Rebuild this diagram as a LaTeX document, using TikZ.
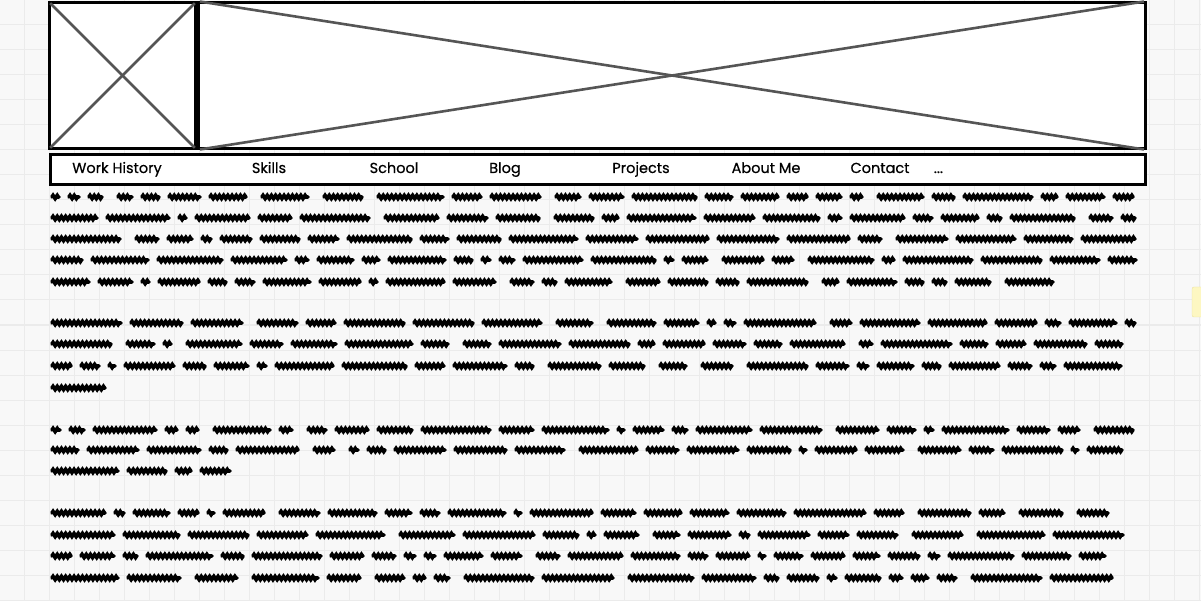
\documentclass[tikz,border=0pt]{standalone}
\usepackage{fontspec}
\setmainfont{Poppins}[FakeBold=0.5]
\usepackage{xcolor}
\usepackage{tikz}
\usetikzlibrary{positioning, calc, decorations.pathmorphing}

\definecolor{canvas}{HTML}{F8F8F8}
\definecolor{gridline}{HTML}{EBEBEB}
\definecolor{crossgray}{HTML}{555555}
\definecolor{sticky}{HTML}{FDF7C2}
\definecolor{stickyedge}{HTML}{EDE3A2}

\tikzset{
  imgbox/.style={draw=black, line width=2.8pt, fill=white, inner sep=0pt},
  cross/.style={crossgray, line width=2.6pt, shorten <=3pt, shorten >=3pt},
  navitem/.style={font=\fontsize{14.5}{17}\selectfont, text=black, inner sep=0pt, anchor=base},
  scribble/.style={line width=3.8pt, line cap=round, decorate,
    decoration={zigzag, segment length=4.2pt, amplitude=1.5pt}}
}

\newcommand\scribbleline[3]{%
  \pgfmathsetmacro\scrx{#2+2}%
  \loop
    \pgfmathrandominteger{\scrlen}{6}{70}%
    \pgfmathsetmacro\scrnx{\scrx+\scrlen}%
    \ifdim\scrnx pt>\numexpr#3-2\relax pt \pgfmathsetmacro\scrnx{#3-2}\fi
    \draw[scribble] (\scrx,#1) -- (\scrnx,#1);
    \pgfmathrandominteger{\scrgap}{0}{5}%
    \pgfmathsetmacro\scrx{\scrnx+(\scrgap==0 ? 16 : 10)}%
  \ifdim\scrx pt<\numexpr#3-10\relax pt \repeat
}

\begin{document}
\begin{tikzpicture}[x=1pt, y=-1pt]
      \useasboundingbox (0,0) rectangle (1201,601);
      \fill[canvas] (0,0) rectangle (1201,601);
      \foreach \gx in {24,49,...,1200} \draw[gridline, line width=1pt] (\gx,0) -- (\gx,601);
      \foreach \gy in {0,25,...,600} \draw[gridline, line width=1pt] (0,\gy) -- (1201,\gy);

      \fill[sticky, draw=stickyedge, rounded corners=2pt] (1203,287) -- (1192,287) -- (1192,317) -- (1203,317);

      \node[imgbox, minimum width=146pt, minimum height=146pt] (logo) at (122.5,75.5) {};
      \node[imgbox, minimum width=947pt, minimum height=146pt] (banner) at (672,75.5) {};
      \draw[cross] (logo.north west) -- (logo.south east);
      \draw[cross] (logo.south west) -- (logo.north east);
      \draw[cross] (banner.north west) -- (banner.south east);
      \draw[cross] (banner.south west) -- (banner.north east);

      \node[imgbox, minimum width=1095pt, minimum height=30pt] (navbar) at (598,169.5) {};
      \node[navitem] (work) at (117,173) {Work History};
      \node[navitem] (skills) at (269,173) {Skills};
      \node[navitem] (school) at (394,173) {School};
      \node[navitem] (blog) at (505,173) {Blog};
      \node[navitem] (projects) at (641,173) {Projects};
      \node[navitem] (about) at (766,173) {About Me};
      \node[navitem] (contact) at (880,173) {Contact};
      \node[navitem, right=24pt of contact.base east, anchor=base west] (more) {...};

      \pgfmathsetseed{11}
      \foreach \ly/\lx in {197/1137, 218/1137, 239/1137, 260/1138, 282/1055,
                           323/1137, 344/1137, 366/1138, 388/107,
                           430/1137, 450/1125, 471/232,
                           513/1110, 535/1128, 556/1107, 578/1114}
        \scribbleline{\ly}{50}{\lx};
    \end{tikzpicture}
\end{document}
